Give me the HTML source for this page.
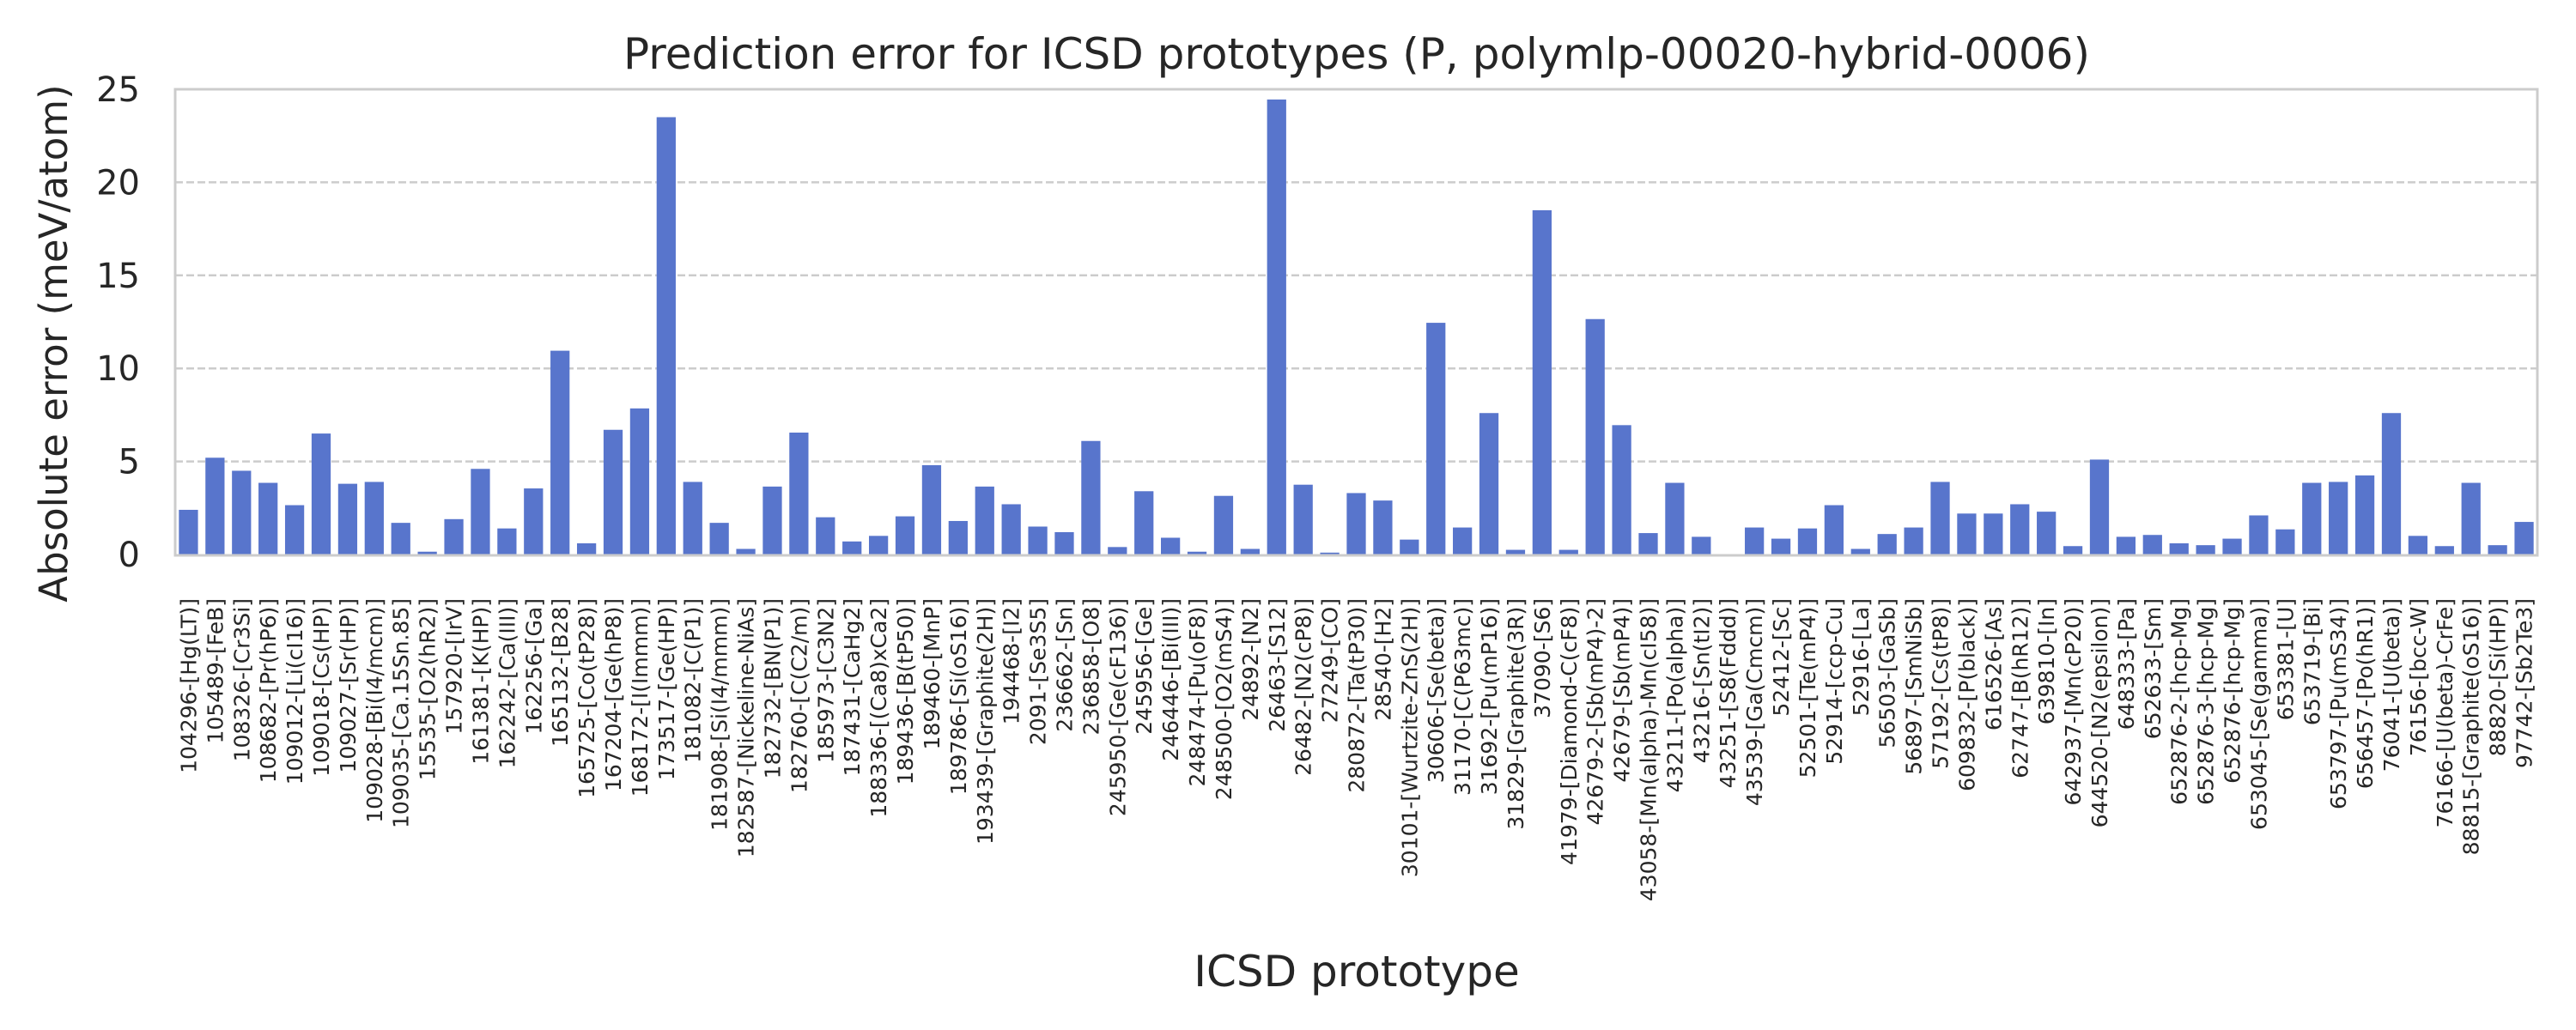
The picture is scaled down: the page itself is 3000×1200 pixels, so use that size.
<!DOCTYPE html>
<html><head><meta charset="utf-8"><style>
html,body{margin:0;padding:0;background:#fff;}
svg{display:block;font-family:"DejaVu Sans","Liberation Sans",sans-serif;}
</style></head><body>
<svg id="chart" width="3000" height="1200" viewBox="0 0 3000 1200">
<rect x="0" y="0" width="3000" height="1200" fill="#fff"/>
<text x="1580" y="80" font-size="50" text-anchor="middle" fill="#262626">Prediction error for ICSD prototypes (P, polymlp-00020-hybrid-0006)</text>
<g id="grid"></g>
<g id="bars"></g>
<rect x="204" y="104" width="2751" height="543" fill="none" stroke="#cccccc" stroke-width="3"/>
<g id="yticks"></g>
<g id="xticks"></g>
<text transform="translate(78,400) rotate(-90)" font-size="45" text-anchor="middle" fill="#262626">Absolute error (meV/atom)</text>
<text x="1580" y="1149" font-size="50" text-anchor="middle" fill="#262626">ICSD prototype</text>
</svg>
<script>
const categories = ["104296-[Hg(LT)]","105489-[FeB]","108326-[Cr3Si]","108682-[Pr(hP6)]","109012-[Li(cI16)]","109018-[Cs(HP)]","109027-[Sr(HP)]","109028-[Bi(I4/mcm)]","109035-[Ca.15Sn.85]","15535-[O2(hR2)]","157920-[IrV]","161381-[K(HP)]","162242-[Ca(III)]","162256-[Ga]","165132-[B28]","165725-[Co(tP28)]","167204-[Ge(hP8)]","168172-[I(Immm)]","173517-[Ge(HP)]","181082-[C(P1)]","181908-[Si(I4/mmm)]","182587-[Nickeline-NiAs]","182732-[BN(P1)]","182760-[C(C2/m)]","185973-[C3N2]","187431-[CaHg2]","188336-[(Ca8)xCa2]","189436-[B(tP50)]","189460-[MnP]","189786-[Si(oS16)]","193439-[Graphite(2H)]","194468-[I2]","2091-[Se3S5]","236662-[Sn]","236858-[O8]","245950-[Ge(cF136)]","245956-[Ge]","246446-[Bi(III)]","248474-[Pu(oF8)]","248500-[O2(mS4)]","24892-[N2]","26463-[S12]","26482-[N2(cP8)]","27249-[CO]","280872-[Ta(tP30)]","28540-[H2]","30101-[Wurtzite-ZnS(2H)]","30606-[Se(beta)]","31170-[C(P63mc)]","31692-[Pu(mP16)]","31829-[Graphite(3R)]","37090-[S6]","41979-[Diamond-C(cF8)]","42679-2-[Sb(mP4)-2]","42679-[Sb(mP4)]","43058-[Mn(alpha)-Mn(cI58)]","43211-[Po(alpha)]","43216-[Sn(tI2)]","43251-[S8(Fddd)]","43539-[Ga(Cmcm)]","52412-[Sc]","52501-[Te(mP4)]","52914-[ccp-Cu]","52916-[La]","56503-[GaSb]","56897-[SmNiSb]","57192-[Cs(tP8)]","609832-[P(black)]","616526-[As]","62747-[B(hR12)]","639810-[In]","642937-[Mn(cP20)]","644520-[N2(epsilon)]","648333-[Pa]","652633-[Sm]","652876-2-[hcp-Mg]","652876-3-[hcp-Mg]","652876-[hcp-Mg]","653045-[Se(gamma)]","653381-[U]","653719-[Bi]","653797-[Pu(mS34)]","656457-[Po(hR1)]","76041-[U(beta)]","76156-[bcc-W]","76166-[U(beta)-CrFe]","88815-[Graphite(oS16)]","88820-[Si(HP)]","97742-[Sb2Te3]"];
const errors = [2.4,5.2,4.5,3.85,2.65,6.5,3.8,3.9,1.7,0.15,1.9,4.6,1.4,3.55,10.95,0.6,6.7,7.85,23.5,3.9,1.7,0.3,3.65,6.55,2.0,0.7,1.0,2.05,4.8,1.8,3.65,2.7,1.5,1.2,6.1,0.4,3.4,0.9,0.15,3.15,0.3,24.45,3.75,0.1,3.3,2.9,0.8,12.45,1.45,7.6,0.25,18.5,0.25,12.65,6.95,1.15,3.85,0.95,0.02,1.45,0.85,1.4,2.65,0.3,1.1,1.45,3.9,2.2,2.2,2.7,2.3,0.45,5.1,0.95,1.05,0.6,0.5,0.85,2.1,1.35,3.85,3.9,4.25,7.6,1.0,0.45,3.85,0.5,1.75];
const yTicks = [0,5,10,15,20,25];

const NS = "http://www.w3.org/2000/svg";
const X0 = 204, X1 = 2955, Y0 = 646, YTOP = 104, YMAX = 25;
const step = (X1 - X0) / categories.length;
function xCenter(i){ return X0 + step * (i + 0.5); }
function yScale(v){ return Y0 - (v / YMAX) * (Y0 - YTOP); }

const grid = document.getElementById('grid');
const yt = document.getElementById('yticks');
yTicks.forEach(t => {
  const y = yScale(t);
  if (t > 0 && t < YMAX) {
    const l = document.createElementNS(NS, 'line');
    l.setAttribute('x1', X0); l.setAttribute('x2', X1);
    l.setAttribute('y1', y); l.setAttribute('y2', y);
    l.setAttribute('stroke', '#cccccc'); l.setAttribute('stroke-width', '2.5');
    l.setAttribute('stroke-dasharray', '9,4');
    
    
    grid.appendChild(l);
  }
  const tx = document.createElementNS(NS, 'text');
  tx.setAttribute('x', 163); tx.setAttribute('y', y + 14);
  tx.setAttribute('font-size', '40'); tx.setAttribute('text-anchor', 'end');
  tx.setAttribute('fill', '#262626');
  tx.textContent = String(t);
  
  
  yt.appendChild(tx);
});

const bars = document.getElementById('bars');
const xt = document.getElementById('xticks');
const bw = step * 0.72;
categories.forEach((c, i) => {
  const v = errors[i];
  const r = document.createElementNS(NS, 'rect');
  r.setAttribute('x', xCenter(i) - bw / 2);
  r.setAttribute('y', yScale(v));
  r.setAttribute('width', bw);
  r.setAttribute('height', Math.max(0, Y0 - yScale(v)));
  r.setAttribute('fill', '#5875cc');
  
  
  bars.appendChild(r);
  const t = document.createElementNS(NS, 'text');
  const cx = xCenter(i) + 9;
  t.setAttribute('transform', 'translate(' + cx + ',697) rotate(-90)');
  t.setAttribute('font-size', '25'); t.setAttribute('text-anchor', 'end');
  t.setAttribute('fill', '#262626');
  t.textContent = c;
  
  
  xt.appendChild(t);
});
</script>
</body></html>
